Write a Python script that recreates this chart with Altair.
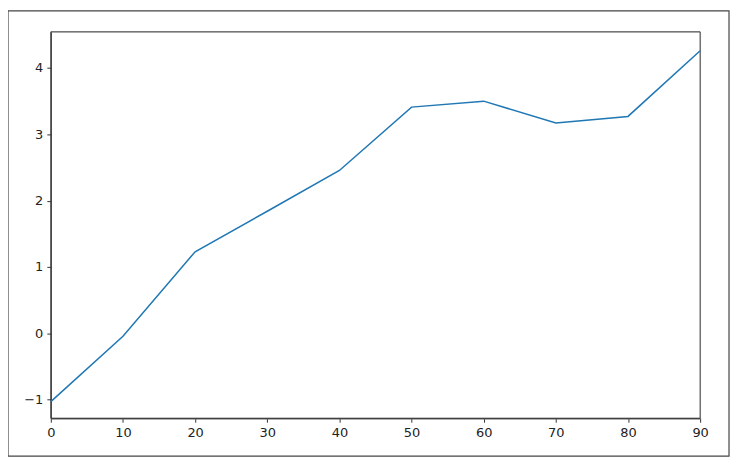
import altair as alt
import pandas as pd

xs = [0, 10, 20, 30, 40, 50, 60, 70, 80, 90]
ys = [-1.03, -0.045, 1.23, 1.84, 2.455, 3.41, 3.50, 3.17, 3.27, 4.26]
x_ticks = [0, 10, 20, 30, 40, 50, 60, 70, 80, 90]
y_ticks = [-1, 0, 1, 2, 3, 4]

W, H = 652, 388

df = pd.DataFrame({"x": xs, "y": ys})

ax_style = dict(title=None, grid=False, format="d", labelFlush=False,
                tickColor="#333", tickSize=4, tickWidth=1,
                labelFont="DejaVu Sans", labelFontSize=13, labelColor="#222", labelPadding=4)

line = alt.Chart(df).mark_line(color="#1f77b4", strokeWidth=1.5, clip=False).encode(
    x=alt.X("x:Q", scale=alt.Scale(domain=[0, 90], nice=False, zero=False),
            axis=alt.Axis(values=x_ticks, domainColor="#666", domainWidth=1.5, **ax_style)),
    y=alt.Y("y:Q", scale=alt.Scale(domain=[-1.28, 4.545], nice=False, zero=False),
            axis=alt.Axis(values=y_ticks, domainColor="#333", domainWidth=1, **ax_style)),
)

one = pd.DataFrame({"a": [0]})

outer = alt.Chart(one).mark_rect(
    fill=None, stroke="#444", strokeWidth=1.2, clip=False
).encode(
    x=alt.value(-43), x2=alt.value(W + 29),
    y=alt.value(-21), y2=alt.value(H + 38),
)

inner = alt.Chart(one).mark_rect(
    fill=None, stroke="#333", strokeWidth=1, clip=False
).encode(
    x=alt.value(0), x2=alt.value(W),
    y=alt.value(0), y2=alt.value(H),
)

chart = alt.layer(outer, inner, line).properties(
    width=W, height=H,
    padding={"left": 43, "top": 23, "right": 31, "bottom": 40},
    autosize=alt.AutoSizeParams(type="none"),
).configure_view(
    stroke=None
).configure(background="white")

chart.save("out.html", embed_options={"renderer": "svg", "actions": False})
